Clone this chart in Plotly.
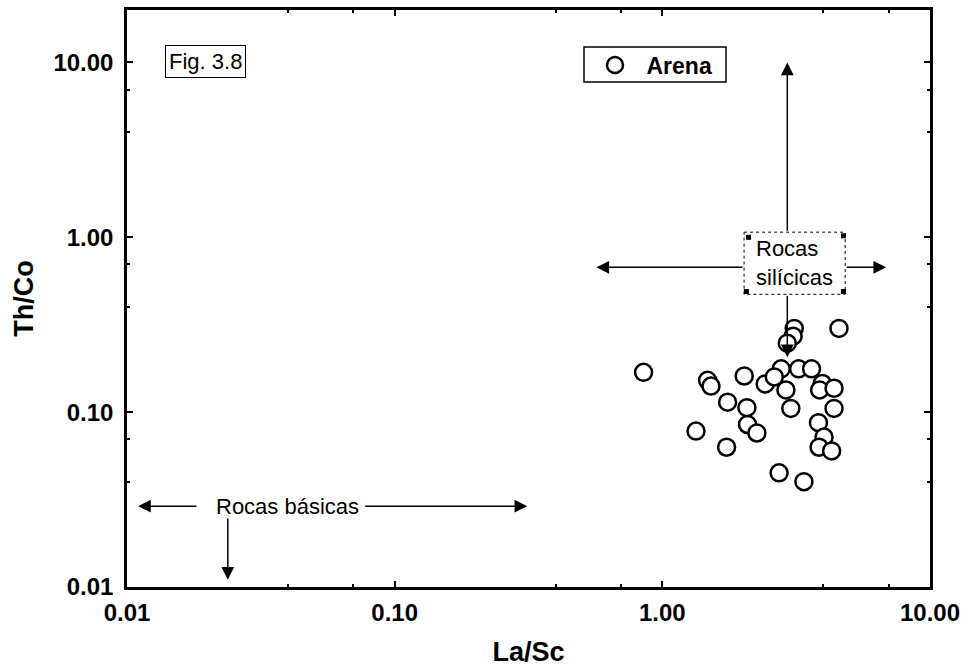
import math
import plotly.graph_objects as go

# La/Sc vs Th/Co ratios for the sand samples
la_sc = [0.851, 1.476, 1.520, 1.753, 2.070, 2.081, 2.256, 1.336, 1.738, 2.023,
         2.423, 2.780, 2.895, 3.02, 3.23, 3.61, 3.96, 3.87, 4.38, 4.38,
         3.83, 4.02, 3.85, 4.29, 2.73, 3.38, 4.57, 3.11, 3.08, 2.93, 2.62]
th_co = [0.169, 0.152, 0.141, 0.114, 0.106, 0.085, 0.076, 0.078, 0.063, 0.161,
         0.145, 0.177, 0.134, 0.105, 0.177, 0.177, 0.146, 0.134, 0.137, 0.105,
         0.087, 0.072, 0.063, 0.060, 0.045, 0.040, 0.301, 0.301, 0.272, 0.248, 0.159]

x_ticks = [0.01, 0.1, 1, 10]
x_ticktext = ["0.01", "0.10", "1.00", "10.00"]
y_ticks = [0.01, 0.1, 1, 10]
y_ticktext = ["0.01", "0.10", "1.00", "10.00"]
minor_ticks = [0.04, 0.07, 0.4, 0.7, 4, 7]

FONT = "Liberation Sans"
L = math.log10

# plot area in pixels (used to place paper-referenced items)
PL, PR, PT, PB = 127, 930, 10, 587
def px(xp):
    return (xp - PL) / (PR - PL)
def py(yp):
    return 1 - (yp - PT) / (PB - PT)

fig = go.Figure()

fig.add_trace(go.Scatter(
    x=la_sc, y=th_co, mode="markers", name="Arena",
    marker=dict(symbol="circle", size=17, color="white",
                line=dict(color="black", width=2.5)),
))

# dotted frame around the "Rocas silícicas" label
box_x = [2.02, 4.82, 4.82, 2.02, 2.02]
box_y = [1.07, 1.07, 0.472, 0.472, 1.07]
fig.add_trace(go.Scatter(
    x=box_x, y=box_y, mode="lines", showlegend=False, hoverinfo="skip",
    fill="toself", fillcolor="white",
    line=dict(color="black", width=1, dash="dot"),
))
fig.add_trace(go.Scatter(
    x=[2.1, 4.75, 2.06, 4.75], y=[1.0, 1.02, 0.49, 0.49], mode="markers",
    showlegend=False, hoverinfo="skip",
    marker=dict(symbol="square", size=5, color="black"),
))

axis_common = dict(
    type="log", showgrid=False, zeroline=False, automargin=False,
    showline=True, linecolor="black", linewidth=2.5, mirror="ticks",
    ticks="inside", ticklen=6, tickwidth=2, tickcolor="black",
    tickmode="array",
    tickfont=dict(family=FONT, size=24, color="black", weight="bold"),
    minor=dict(tickmode="array", tickvals=minor_ticks, ticks="inside",
               ticklen=3, tickwidth=2, tickcolor="black", showgrid=False),
)

fig.update_layout(
    width=967, height=668,
    margin=dict(l=PL, r=967 - PR, t=PT, b=668 - PB),
    paper_bgcolor="white", plot_bgcolor="white",
    xaxis=dict(axis_common, range=[-2, 1], tickvals=x_ticks, ticktext=x_ticktext,
               ticklabelstandoff=2,
               title=dict(text="La/Sc", standoff=18,
                          font=dict(family=FONT, size=27, color="black", weight="bold"))),
    yaxis=dict(axis_common, range=[-2, 1.3], tickvals=y_ticks, ticktext=y_ticktext,
               ticklabelstandoff=6,
               title=dict(text="Th/Co", standoff=12,
                          font=dict(family=FONT, size=27, color="black", weight="bold"))),
    legend=dict(x=px(595), y=py(65), xanchor="left", yanchor="middle",
                bgcolor="rgba(0,0,0,0)", borderwidth=0,
                font=dict(family=FONT, size=23, color="black", weight="bold")),
    showlegend=True,
    shapes=[dict(type="rect", xref="paper", yref="paper",
                 x0=px(584), x1=px(726), y0=py(82), y1=py(47),
                 line=dict(color="black", width=1.5), fillcolor="white", layer="below")],
)
fig.data[0].name = "\u2002Arena"

def arrow(x_tip, y_tip, x_tail, y_tail):
    fig.add_annotation(
        x=L(x_tip), y=L(y_tip), ax=L(x_tail), ay=L(y_tail),
        xref="x", yref="y", axref="x", ayref="y", text="",
        showarrow=True, arrowhead=2, arrowsize=1.7, arrowwidth=1.5,
        arrowcolor="black",
    )

# Rocas silícicas arrows
arrow(2.93, 10.0, 2.93, 1.07)
arrow(2.93, 0.206, 2.93, 0.472)
arrow(0.567, 0.674, 2.02, 0.674)
arrow(6.86, 0.674, 4.82, 0.674)

# Rocas básicas arrows
arrow(0.011, 0.029, 0.0184, 0.029)
arrow(0.313, 0.029, 0.0766, 0.029)
arrow(0.0238, 0.011, 0.0238, 0.0251)

fig.add_annotation(
    x=L(2.2), y=L(0.715), xref="x", yref="y", xanchor="left", yanchor="middle",
    text="Rocas<br>silícicas", showarrow=False, align="left",
    font=dict(family=FONT, size=22, color="black"),
)
fig.add_annotation(
    x=L(0.0397), y=L(0.029), xref="x", yref="y", xanchor="center", yanchor="middle",
    text="Rocas básicas", showarrow=False,
    font=dict(family=FONT, size=22, color="black"),
)
fig.add_annotation(
    x=px(205), y=py(61.5), xref="paper", yref="paper",
    xanchor="center", yanchor="middle",
    text="Fig. 3.8", showarrow=False,
    bordercolor="black", borderwidth=1, borderpad=3, bgcolor="white",
    font=dict(family=FONT, size=22, color="black"),
)

fig.write_html("out.html")
